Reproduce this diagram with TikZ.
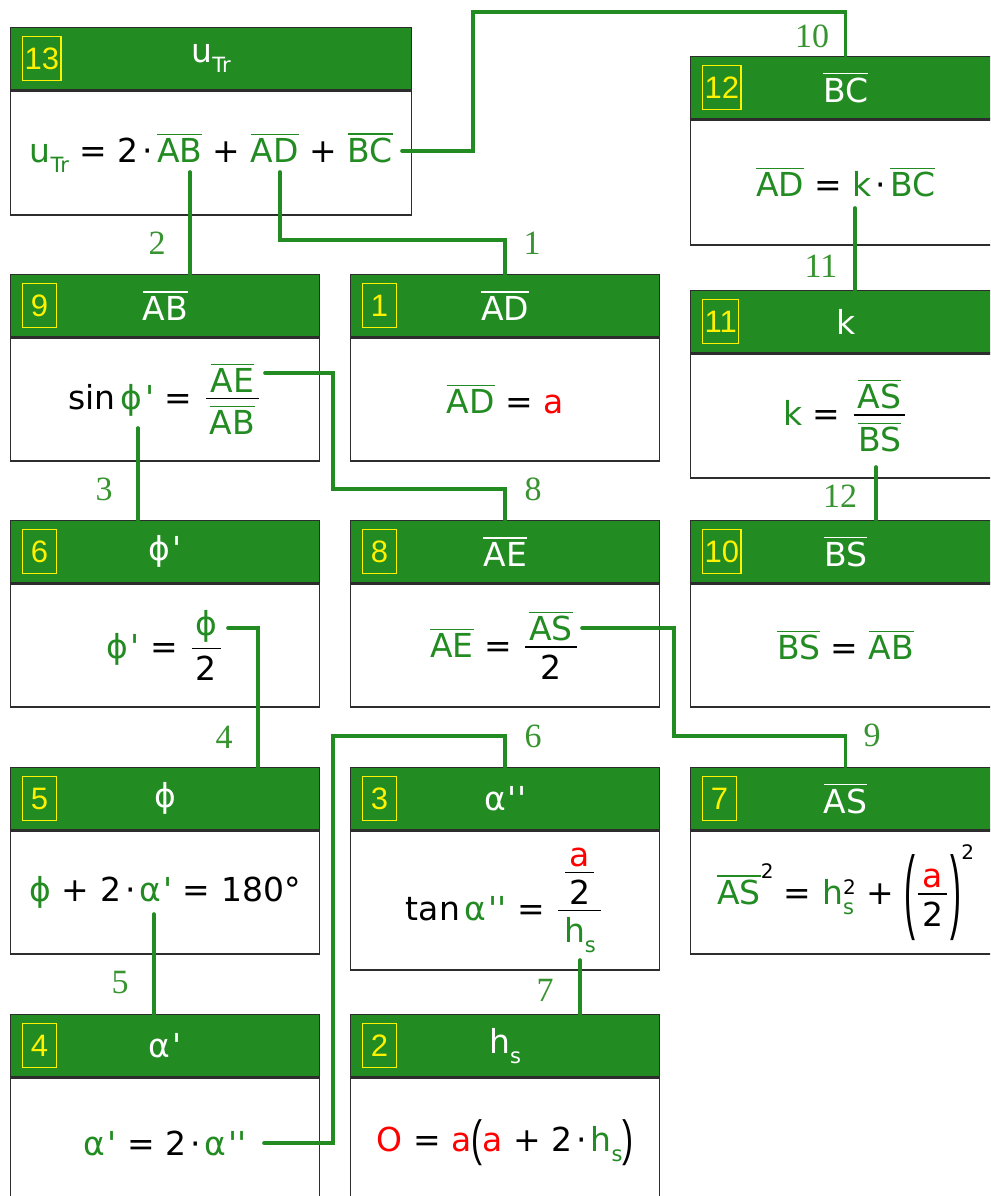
\documentclass[tikz,border=0pt]{standalone}
\usepackage{fontspec}
\usepackage{graphicx}
\setmainfont{DejaVu Sans}[Ligatures=TeXOff]
\newfontfamily\lblfont{Liberation Serif}
\newfontfamily\numfont{Liberation Sans}[Ligatures=TeXOff]
\definecolor{fg}{RGB}{34,139,34}
\definecolor{lg}{RGB}{56,148,48}
\definecolor{bd}{RGB}{45,45,45}
\newcommand\fs{\fontsize{33pt}{40pt}\selectfont}
\newcommand\g[1]{\textcolor{fg}{#1}}
\newcommand\rr[1]{\textcolor{red}{#1}}
\newcommand\ol[1]{\leavevmode\vbox{\hrule height 1.3pt\kern 3.5pt\hbox{#1}}}
\newcommand\sub[1]{\raisebox{-0.3em}{\fontsize{21pt}{21pt}\selectfont #1}}
\newcommand\supr[2]{\raisebox{#1}{\fontsize{20pt}{20pt}\selectfont #2}}
\newcommand\subsup[2]{\leavevmode\vbox to 0pt{\offinterlineskip\vss\hbox{\fontsize{20pt}{20pt}\selectfont #2}\kern 8pt\hbox{\fontsize{21pt}{21pt}\selectfont #1}\kern-10pt}}
\newcommand\md{\kern4pt·\kern4pt}
\newcommand\bigp[3]{\raisebox{#3}{\scalebox{1}[#2]{\numfont #1}}}
\newcommand\fr[2]{\leavevmode\begingroup
 \setbox0=\hbox{#1}\setbox2=\hbox{#2}%
 \dimen0=\wd0 \ifdim\wd2>\dimen0 \dimen0=\wd2 \fi
 \advance\dimen0 by 8pt
 \kern3pt\raisebox{0.3em}{\hbox{\vbox{\hbox to\dimen0{\hfil\box0\hfil}\kern5pt\hrule height 1.3pt}\kern-\dimen0\vtop{\kern7pt\hbox to\dimen0{\hfil\box2\hfil}}}}\kern3pt
 \endgroup}
\tikzset{
 hdr/.style={anchor=north west, minimum height=62pt, fill=fg, draw=bd, line width=1.3pt, text=white, inner sep=0pt, font=\fs},
 bdy/.style={anchor=north west, fill=white, draw=bd, line width=1.3pt, inner sep=0pt, font=\fs},
 nbx/.style={anchor=west, draw=yellow, text=yellow, line width=1.2pt, minimum width=34pt, minimum height=44pt, inner sep=2pt, font=\numfont\fontsize{31pt}{31pt}\selectfont},
 conn/.style={draw=fg, line width=3.6pt, line cap=round},
 lbl/.style={text=lg, inner sep=0pt, font=\lblfont\fontsize{34pt}{34pt}\selectfont}
}
\newcommand\mkbox[8]{%
 \node[hdr, minimum width=#4] (h#1) at (#2,#3) {#7};
 \node[nbx] (n#1) at ([xshift=12pt]h#1.west) {#6};
 \node[bdy, minimum width=#4, minimum height=#5] (b#1) at (h#1.south west) {#8};
}
\begin{document}
\begin{tikzpicture}[x=1pt,y=-1pt]
\useasboundingbox (0,0) rectangle (990,1196);
\clip (0,0) rectangle (990,1196);
\fill[white] (0,0) rectangle (990,1196);

\mkbox{13}{10}{27}{401}{124}{13}{u\sub{Tr}}{\g{u\sub{Tr}} = 2\md\g{\ol{AB}} + \g{\ol{AD}} + \g{\ol{BC}}}
\mkbox{12}{690}{56}{310}{125}{12}{\ol{BC}}{\g{\ol{AD}} = \g{k}\md\g{\ol{BC}}}
\mkbox{9}{10}{274}{309}{123}{9}{\ol{AB}}{sin\kern5pt\g{ϕ\kern3pt'} = \fr{\g{\ol{AE}}}{\g{\ol{AB}}}}
\mkbox{1}{350}{274}{309}{123}{1}{\ol{AD}}{\g{\ol{AD}} = \rr{a}}
\mkbox{11}{690}{290}{310}{124}{11}{k}{\g{k} = \fr{\g{\ol{AS}}}{\g{\ol{BS}}}}
\mkbox{6}{10}{520}{309}{123}{6}{ϕ\kern3pt'}{\g{ϕ\kern3pt'} = \fr{\g{ϕ}}{2}}
\mkbox{8}{350}{520}{309}{123}{8}{\ol{AE}}{\g{\ol{AE}} = \fr{\g{\ol{AS}}}{2}}
\mkbox{10}{690}{520}{310}{123}{10}{\ol{BS}}{\g{\ol{BS}} = \g{\ol{AB}}}
\mkbox{5}{10}{767}{309}{123}{5}{ϕ}{\g{ϕ} + 2\md\g{α\kern2pt'} = 180°}
\mkbox{3}{350}{767}{309}{139}{3}{α\kern2pt''}{tan\kern5pt\g{α\kern2pt''} = \fr{\fr{\rr{a}}{2}}{\g{h\sub{s}}}}
\mkbox{7}{690}{767}{310}{123}{7}{\ol{AS}}{\g{\ol{AS}}\supr{0.8em}{2} = \g{h}\subsup{\g{s}}{2} + \bigp{(}{2.8}{-0.5em}\fr{\rr{a}}{2}\bigp{)}{2.8}{-0.5em}\supr{1.36em}{2}}
\mkbox{4}{10}{1014}{309}{130}{4}{α\kern2pt'}{\g{α\kern2pt'} = 2\md\g{α\kern2pt''}}
\mkbox{2}{350}{1014}{309}{130}{2}{h\sub{s}}{\rr{O} = \rr{a}\bigp{(}{1.5}{-0.14em}\rr{a} + 2\md\g{h\sub{s}}\bigp{)}{1.5}{-0.14em}}

% start points of connectors
\coordinate (s1) at (280,172);
\coordinate (s2) at (190,172);
\coordinate (s10) at (402,151);
\coordinate (s11) at (855,208);
\coordinate (s12) at (876,467);
\coordinate (s3) at (138,428);
\coordinate (s8) at (265,373);
\coordinate (s4) at (228,628);
\coordinate (s9) at (582,628);
\coordinate (s6) at (264,1143);
\coordinate (s5) at (154,914);
\coordinate (s7) at (580,960);

\draw[conn] (s1) -- ++(0,68) -| (h1.north);
\draw[conn] (s2) -- (s2 |- h9.north);
\draw[conn] (s10) -- ++(71,0) -- ++(0,-139) -| (h12.north);
\draw[conn] (s11) -- (s11 |- h11.north);
\draw[conn] (s12) -- (s12 |- h10.north);
\draw[conn] (s3) -- (s3 |- h6.north);
\draw[conn] (s8) -- ++(68,0) -- ++(0,116) -| (h8.north);
\draw[conn] (s4) -| ([xshift=248pt]h5.north west);
\draw[conn] (s9) -- ++(92,0) -- ++(0,108) -| (h7.north);
\draw[conn] (s6) -- ++(69,0) -- ++(0,-407) -| (h3.north);
\draw[conn] (s5) -- (s5 |- h4.north);
\draw[conn] (s7) -- (s7 |- h2.north);

\node[lbl] (l1) at (532,243) {1};
\node[lbl] (l2) at (157,243) {2};
\node[lbl] (l10) at (812,36) {10};
\node[lbl] (l11) at (821,266) {11};
\node[lbl] (l12) at (840,496) {12};
\node[lbl] (l3) at (104,489) {3};
\node[lbl] (l8) at (533,489) {8};
\node[lbl] (l4) at (224,737) {4};
\node[lbl] (l9) at (872,735) {9};
\node[lbl] (l6) at (533,736) {6};
\node[lbl] (l5) at (120,983) {5};
\node[lbl] (l7) at (545,990) {7};
\end{tikzpicture}
\end{document}
